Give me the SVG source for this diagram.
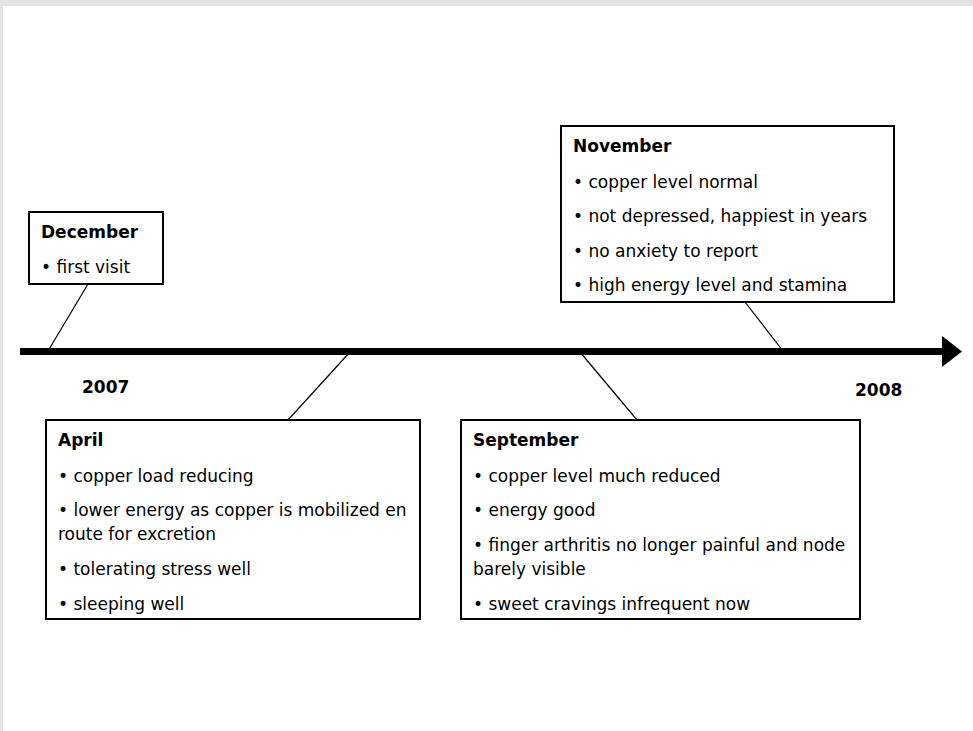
<svg xmlns="http://www.w3.org/2000/svg" width="973" height="731" viewBox="0 0 973 731">
<style>
.box{fill:#fff;stroke:#000;stroke-width:2}
.t{font-family:"DejaVu Sans",Verdana,sans-serif;font-size:17px;fill:#000}
.b{font-weight:bold}
.c{stroke:#000;stroke-width:1.2;fill:none}
</style>
<rect x="0" y="0" width="973" height="731" fill="#fff"/>
<rect x="0" y="0" width="973" height="6" fill="#e4e5e7"/>
<rect x="0" y="0" width="3" height="731" fill="#e4e5e7"/>
<g id="timeline">
<rect x="20" y="348" width="925" height="7" fill="#000"/>
<polygon points="942,336 962,351.5 942,367" fill="#000"/>
<text class="t b" x="82" y="393">2007</text>
<text class="t b" x="855" y="396">2008</text>
</g>
<g id="connectors">
<line class="c" x1="88" y1="284" x2="48" y2="351"/>
<line class="c" x1="745" y1="302" x2="783" y2="351"/>
<line class="c" x1="350" y1="352" x2="288" y2="420"/>
<line class="c" x1="580" y1="352" x2="637" y2="420"/>
</g>
<g id="december">
<rect class="box" x="29" y="212" width="134" height="72"/>
<text class="t b" x="41" y="238">December</text>
<text class="t" x="41" y="273">• first visit</text>
</g>
<g id="november">
<rect class="box" x="561" y="126" width="333" height="176"/>
<text class="t b" x="573" y="152">November</text>
<text class="t" x="573" y="188">• copper level normal</text>
<text class="t" x="573" y="222">• not depressed, happiest in years</text>
<text class="t" x="573" y="257">• no anxiety to report</text>
<text class="t" x="573" y="291">• high energy level and stamina</text>
</g>
<g id="april">
<rect class="box" x="46" y="420" width="374" height="199"/>
<text class="t b" x="58" y="446">April</text>
<text class="t" x="58" y="482">• copper load reducing</text>
<text class="t" x="58" y="516">• lower energy as copper is mobilized en</text>
<text class="t" x="58" y="540">route for excretion</text>
<text class="t" x="58" y="575">• tolerating stress well</text>
<text class="t" x="58" y="610">• sleeping well</text>
</g>
<g id="september">
<rect class="box" x="461" y="420" width="399" height="199"/>
<text class="t b" x="473" y="446">September</text>
<text class="t" x="473" y="482">• copper level much reduced</text>
<text class="t" x="473" y="516">• energy good</text>
<text class="t" x="473" y="551">• finger arthritis no longer painful and node</text>
<text class="t" x="473" y="575">barely visible</text>
<text class="t" x="473" y="610">• sweet cravings infrequent now</text>
</g>
</svg>
